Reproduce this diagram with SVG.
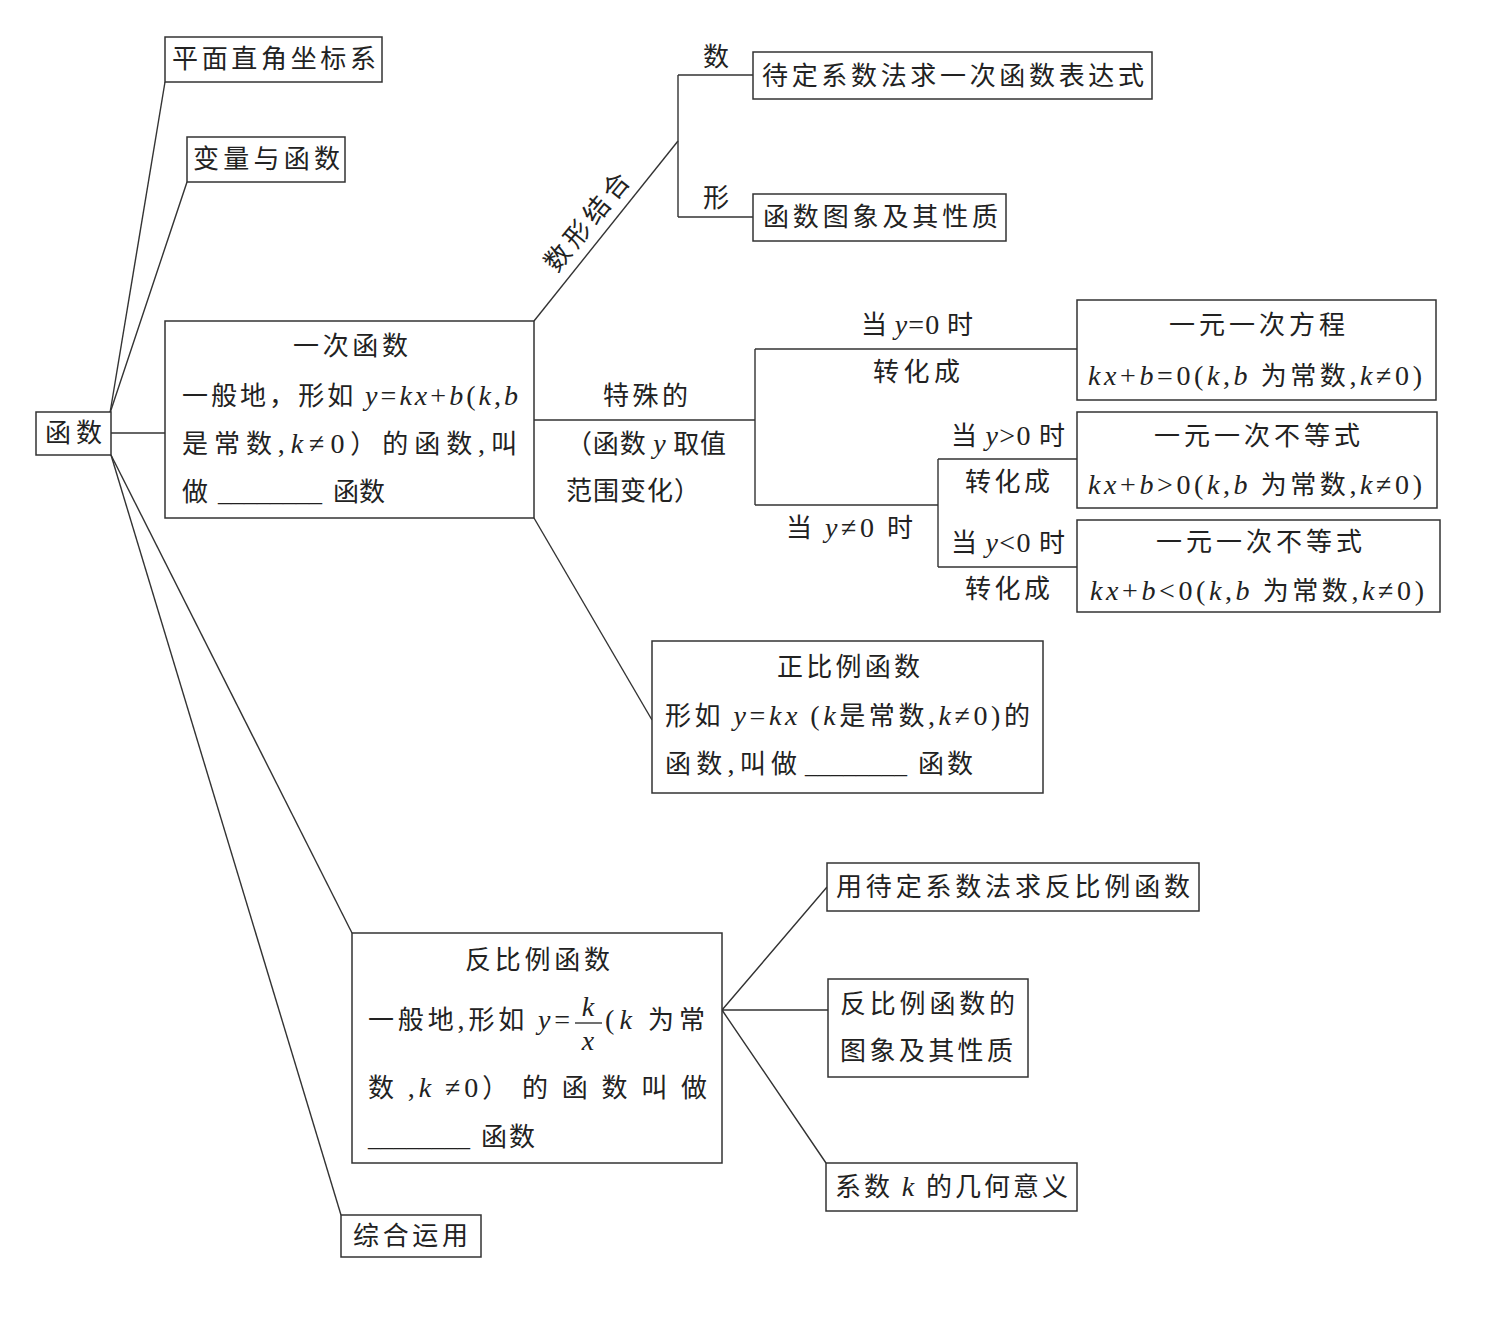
<svg xmlns="http://www.w3.org/2000/svg" width="1486" height="1324" viewBox="0 0 1486 1324">
<style>
.box{fill:#fff;stroke:#333;stroke-width:1.5}
.ln{fill:none;stroke:#333;stroke-width:1.4}
text{font-family:"Noto Sans CJK SC","Noto Sans",sans-serif;font-size:26px;fill:#222}
.m{font-family:"Liberation Serif",serif;font-style:italic;font-size:28px}
.r{font-family:"Liberation Serif",serif;font-size:28px}
</style>
<rect width="1486" height="1324" fill="#fff"/>
<g id="connectors">
<path class="ln" d="M110 413 L165 82"/>
<path class="ln" d="M110 413 L187 182"/>
<path class="ln" d="M111 433 H165"/>
<path class="ln" d="M111 455 L352 933"/>
<path class="ln" d="M111 455 L341 1215"/>
<path class="ln" d="M534 321 L678 141"/>
<path class="ln" d="M678 75 V217 M678 75 H753 M678 217 H753"/>
<path class="ln" d="M534 420 H755 M755 349 V505 M755 349 H1077 M755 505 H938 M938 459 V567 M938 459 H1077 M938 567 H1077"/>
<path class="ln" d="M534 518 L652 720"/>
<path class="ln" d="M722 1010 L827 887 M722 1010 H828 M722 1010 L826 1163"/>
<text x="587" y="231" text-anchor="middle" transform="rotate(-51 587 222)" textLength="118" lengthAdjust="spacing">数形结合</text>
<text x="703" y="66">数</text>
<text x="703" y="207">形</text>
<text x="603" y="405" textLength="85" lengthAdjust="spacing">特殊的</text>
<text x="566" y="453" textLength="160" lengthAdjust="spacing">（函数 <tspan class="m">y</tspan> 取值</text>
<text x="566" y="500" textLength="134" lengthAdjust="spacing">范围变化）</text>
<text x="861" y="334" textLength="112" lengthAdjust="spacing">当 <tspan class="m">y</tspan><tspan class="r">=0</tspan> 时</text>
<text x="873" y="381" textLength="87" lengthAdjust="spacing">转化成</text>
<text x="786" y="537" textLength="127" lengthAdjust="spacing">当 <tspan class="m">y</tspan><tspan class="r">≠0</tspan> 时</text>
<text x="951" y="445" textLength="114" lengthAdjust="spacing">当 <tspan class="m">y</tspan><tspan class="r">&gt;0</tspan> 时</text>
<text x="965" y="491" textLength="85" lengthAdjust="spacing">转化成</text>
<text x="951" y="552" textLength="114" lengthAdjust="spacing">当 <tspan class="m">y</tspan><tspan class="r">&lt;0</tspan> 时</text>
<text x="965" y="598" textLength="85" lengthAdjust="spacing">转化成</text>
</g>
<g id="root">
<rect class="box" x="36" y="412" width="75" height="43"/>
<text x="45" y="442" textLength="57" lengthAdjust="spacing">函数</text>
</g>
<g id="n-pingmian">
<rect class="box" x="165" y="37" width="217" height="45"/>
<text x="172" y="68" textLength="204" lengthAdjust="spacing">平面直角坐标系</text>
</g>
<g id="n-bianliang">
<rect class="box" x="187" y="137" width="158" height="45"/>
<text x="193" y="168" textLength="147" lengthAdjust="spacing">变量与函数</text>
</g>
<g id="n-yici">
<rect class="box" x="165" y="321" width="369" height="197"/>
<text x="293" y="355" textLength="115" lengthAdjust="spacing">一次函数</text>
<text x="182" y="405" textLength="336" lengthAdjust="spacing">一般地，形如 <tspan class="m">y</tspan><tspan class="r">=</tspan><tspan class="m">kx</tspan><tspan class="r">+</tspan><tspan class="m">b</tspan><tspan class="r">(</tspan><tspan class="m">k</tspan><tspan class="r">,</tspan><tspan class="m">b</tspan></text>
<text x="182" y="453" textLength="335" lengthAdjust="spacing">是常数<tspan class="r">,</tspan><tspan class="m">k</tspan><tspan class="r">≠0</tspan>）的函数<tspan class="r">,</tspan>叫</text>
<text x="182" y="501">做</text>
<text x="218" y="501" class="r" textLength="104" lengthAdjust="spacingAndGlyphs">________</text>
<text x="333" y="501" textLength="52" lengthAdjust="spacing">函数</text>
</g>
<g id="n-daiding">
<rect class="box" x="753" y="52" width="399" height="47"/>
<text x="762" y="85" textLength="382" lengthAdjust="spacing">待定系数法求一次函数表达式</text>
</g>
<g id="n-tuxiang">
<rect class="box" x="753" y="194" width="253" height="47"/>
<text x="763" y="226" textLength="235" lengthAdjust="spacing">函数图象及其性质</text>
</g>
<g id="n-fangcheng">
<rect class="box" x="1077" y="300" width="359" height="100"/>
<text x="1169" y="334" textLength="176" lengthAdjust="spacing">一元一次方程</text>
<text x="1088" y="385" textLength="334" lengthAdjust="spacing"><tspan class="m">kx</tspan><tspan class="r">+</tspan><tspan class="m">b</tspan><tspan class="r">=0(</tspan><tspan class="m">k</tspan><tspan class="r">,</tspan><tspan class="m">b</tspan> 为常数<tspan class="r">,</tspan><tspan class="m">k</tspan><tspan class="r">≠0)</tspan></text>
</g>
<g id="n-budengshi1">
<rect class="box" x="1077" y="412" width="360" height="96"/>
<text x="1154" y="445" textLength="206" lengthAdjust="spacing">一元一次不等式</text>
<text x="1088" y="494" textLength="334" lengthAdjust="spacing"><tspan class="m">kx</tspan><tspan class="r">+</tspan><tspan class="m">b</tspan><tspan class="r">&gt;0(</tspan><tspan class="m">k</tspan><tspan class="r">,</tspan><tspan class="m">b</tspan> 为常数<tspan class="r">,</tspan><tspan class="m">k</tspan><tspan class="r">≠0)</tspan></text>
</g>
<g id="n-budengshi2">
<rect class="box" x="1077" y="520" width="363" height="92"/>
<text x="1156" y="551" textLength="206" lengthAdjust="spacing">一元一次不等式</text>
<text x="1090" y="600" textLength="334" lengthAdjust="spacing"><tspan class="m">kx</tspan><tspan class="r">+</tspan><tspan class="m">b</tspan><tspan class="r">&lt;0(</tspan><tspan class="m">k</tspan><tspan class="r">,</tspan><tspan class="m">b</tspan> 为常数<tspan class="r">,</tspan><tspan class="m">k</tspan><tspan class="r">≠0)</tspan></text>
</g>
<g id="n-zhengbili">
<rect class="box" x="652" y="641" width="391" height="152"/>
<text x="777" y="676" textLength="143" lengthAdjust="spacing">正比例函数</text>
<text x="665" y="725" textLength="365" lengthAdjust="spacing">形如 <tspan class="m">y</tspan><tspan class="r">=</tspan><tspan class="m">kx</tspan> <tspan class="r">(</tspan><tspan class="m">k</tspan>是常数<tspan class="r">,</tspan><tspan class="m">k</tspan><tspan class="r">≠0)</tspan>的</text>
<text x="665" y="773" textLength="132" lengthAdjust="spacing">函数<tspan class="r">,</tspan>叫做</text>
<text x="805" y="773" class="r" textLength="102" lengthAdjust="spacingAndGlyphs">________</text>
<text x="918" y="773" textLength="55" lengthAdjust="spacing">函数</text>
</g>
<g id="n-fanbili">
<rect class="box" x="352" y="933" width="370" height="230"/>
<text x="465" y="969" textLength="145" lengthAdjust="spacing">反比例函数</text>
<text x="368" y="1029" textLength="202" lengthAdjust="spacing">一般地<tspan class="r">,</tspan>形如 <tspan class="m">y</tspan><tspan class="r">=</tspan></text>
<text x="588" y="1016" class="m" text-anchor="middle">k</text>
<path class="ln" d="M575 1023 H602"/>
<text x="588" y="1050" class="m" text-anchor="middle">x</text>
<text x="605" y="1029" textLength="100" lengthAdjust="spacing"><tspan class="r">(</tspan><tspan class="m">k</tspan> 为常</text>
<text x="368" y="1097" textLength="339" lengthAdjust="spacing">数 <tspan class="r">,</tspan><tspan class="m">k</tspan> <tspan class="r">≠0</tspan>） 的 函 数 叫 做</text>
<text x="368" y="1146" class="r" textLength="102" lengthAdjust="spacingAndGlyphs">________</text>
<text x="481" y="1146" textLength="54" lengthAdjust="spacing">函数</text>
</g>
<g id="n-daiding2">
<rect class="box" x="827" y="863" width="372" height="48"/>
<text x="836" y="896" textLength="354" lengthAdjust="spacing">用待定系数法求反比例函数</text>
</g>
<g id="n-fantuxiang">
<rect class="box" x="828" y="979" width="200" height="98"/>
<text x="840" y="1013" textLength="175" lengthAdjust="spacing">反比例函数的</text>
<text x="840" y="1060" textLength="173" lengthAdjust="spacing">图象及其性质</text>
</g>
<g id="n-xishu">
<rect class="box" x="826" y="1163" width="251" height="48"/>
<text x="835" y="1196" textLength="233" lengthAdjust="spacing">系数 <tspan class="m">k</tspan> 的几何意义</text>
</g>
<g id="n-zonghe">
<rect class="box" x="341" y="1215" width="140" height="42"/>
<text x="353" y="1245" textLength="115" lengthAdjust="spacing">综合运用</text>
</g>
</svg>
